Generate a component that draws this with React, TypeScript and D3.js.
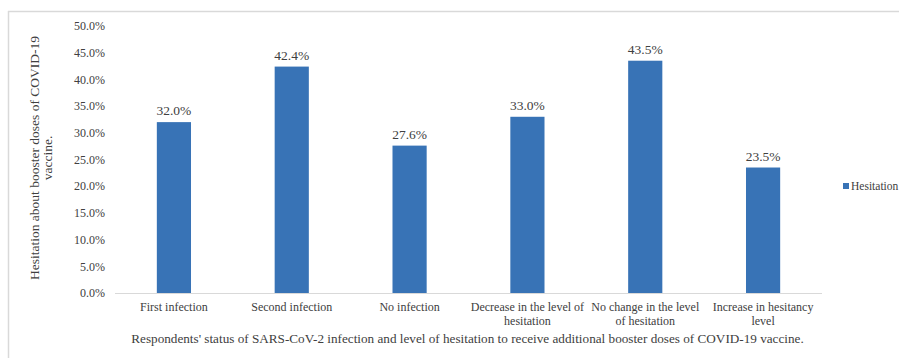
import React from "react";
import * as d3 from "d3";

const categories: string[][] = [
  ["First infection"],
  ["Second infection"],
  ["No infection"],
  ["Decrease in the level of", "hesitation"],
  ["No change in the level", "of hesitation"],
  ["Increase in hesitancy", "level"],
];
const values: number[] = [32.0, 42.4, 27.6, 33.0, 43.5, 23.5];
const yTicks: number[] = [0, 5, 10, 15, 20, 25, 30, 35, 40, 45, 50];
const seriesName = "Hesitation";
const xTitle =
  "Respondents' status of SARS-CoV-2 infection and level of hesitation to receive additional booster doses of COVID-19 vaccine.";
const yTitle = ["Hesitation about booster doses of COVID-19", "vaccine."];

const W = 899;
const H = 358;
const FONT = '"Liberation Serif", "DejaVu Serif", serif';
const BAR = "#3873b6";
const TXT = "#404040";

export default function App() {
  const left = 115;
  const right = 822;
  const top = 26;
  const bottom = 293;
  const x = d3
    .scaleBand<number>()
    .domain(d3.range(categories.length))
    .range([left, right])
    .paddingInner(0.71)
    .paddingOuter(0.355);
  const y = d3.scaleLinear().domain([0, 50]).range([bottom, top]);
  const ts = (size: number): React.CSSProperties => ({ fontFamily: FONT, fontSize: size });

  return (
    <svg
      width={W}
      height={H}
      style={{ position: "absolute", left: 0, top: 0, display: "block", fontFamily: FONT }}
    >
      <rect x={0} y={0} width={W} height={H} fill="#fff" />
      <line x1={8.5} y1={11} x2={8.5} y2={H} stroke="#d9d9d9" strokeWidth={1.5} />
      <line x1={8} y1={11.5} x2={W} y2={11.5} stroke="#d9d9d9" strokeWidth={1.5} />
      {yTicks.map((t) => (
        <text key={t} x={105} y={y(t)} dy="0.35em" textAnchor="end" style={ts(12)} fill={TXT}>
          {t.toFixed(1) + "%"}
        </text>
      ))}
      {values.map((v, i) => (
        <g key={i}>
          <rect x={x(i)!} y={y(v)} width={x.bandwidth()} height={bottom - y(v)} fill={BAR} />
          <text
            x={x(i)! + x.bandwidth() / 2}
            y={y(v) - 7}
            textAnchor="middle"
            style={ts(13.5)}
            fill={TXT}
          >
            {v.toFixed(1) + "%"}
          </text>
        </g>
      ))}
      <line x1={left} y1={bottom + 0.5} x2={right} y2={bottom + 0.5} stroke="#d9d9d9" strokeWidth={1} />
      {categories.map((lines, i) => (
        <text
          key={i}
          x={x(i)! + x.bandwidth() / 2}
          y={311}
          textAnchor="middle"
          style={ts(12)}
          fill={TXT}
        >
          {lines.map((l, j) => (
            <tspan key={j} x={x(i)! + x.bandwidth() / 2} dy={j === 0 ? 0 : 14}>
              {l}
            </tspan>
          ))}
        </text>
      ))}
      <text x={467.5} y={343} textAnchor="middle" style={ts(13.2)} fill={TXT}>
        {xTitle}
      </text>
      <g transform={`translate(39,158) rotate(-90)`}>
        {yTitle.map((l, j) => (
          <text key={j} x={0} y={j * 13} textAnchor="middle" style={ts(13.5)} fill={TXT}>
            {l}
          </text>
        ))}
      </g>
      <rect x={843} y={183} width={6} height={6} fill={BAR} />
      <text x={851} y={186} dy="0.35em" style={ts(11.5)} fill={TXT}>
        {seriesName}
      </text>
    </svg>
  );
}
